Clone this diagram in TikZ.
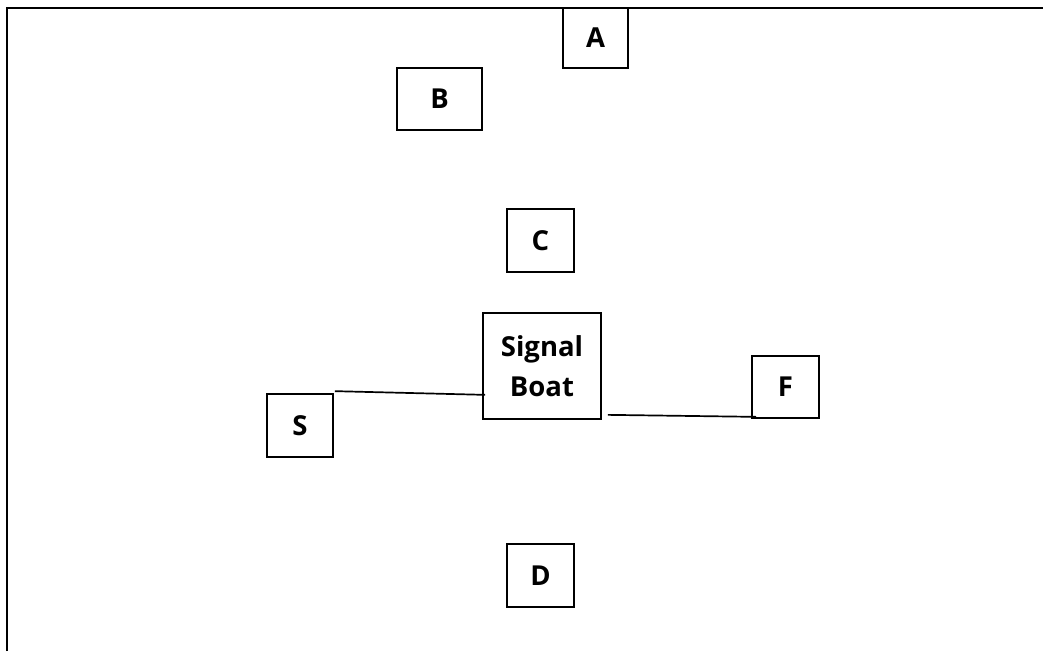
\documentclass[tikz,border=0pt]{standalone}
\usepackage{fontspec}
\setmainfont{Open Sans}
\usepackage{tikz}

\begin{document}
\begin{tikzpicture}
  [x=1pt,y=-1pt,every node/.style={draw,line width=1.7pt,inner sep=0pt,
   font=\bfseries\fontsize{27.5}{40}\selectfont,minimum width=67pt,minimum height=63pt}]
  \useasboundingbox (0,0) rectangle (1043,651);
  \draw[line width=2.2pt] (7,651) -- (7,8) -- (1043,8);
  \node[minimum width=65pt,minimum height=60pt] (nA) at (595.5,38) {A};
  \node[minimum width=85pt,minimum height=62pt] (nB) at (439.5,99) {B};
  \node (nC) at (540.5,240.5) {C};
  \node[minimum width=118pt,minimum height=106pt,align=center] (nBoat) at (542,366) {Signal\\Boat};
  \node[minimum width=66pt] (nS) at (300,425.5) {S};
  \node[minimum height=62pt] (nF) at (785.5,387) {F};
  \node (nD) at (540.5,575.5) {D};
  \draw[line width=1.7pt] ([shift={(1,-2)}]nS.north east) -- ([shift={(3,-25)}]nBoat.south west);
  \draw[line width=1.7pt] ([shift={(6,-5)}]nBoat.south east) -- ([shift={(5,-2)}]nF.south west);
\end{tikzpicture}
\end{document}
